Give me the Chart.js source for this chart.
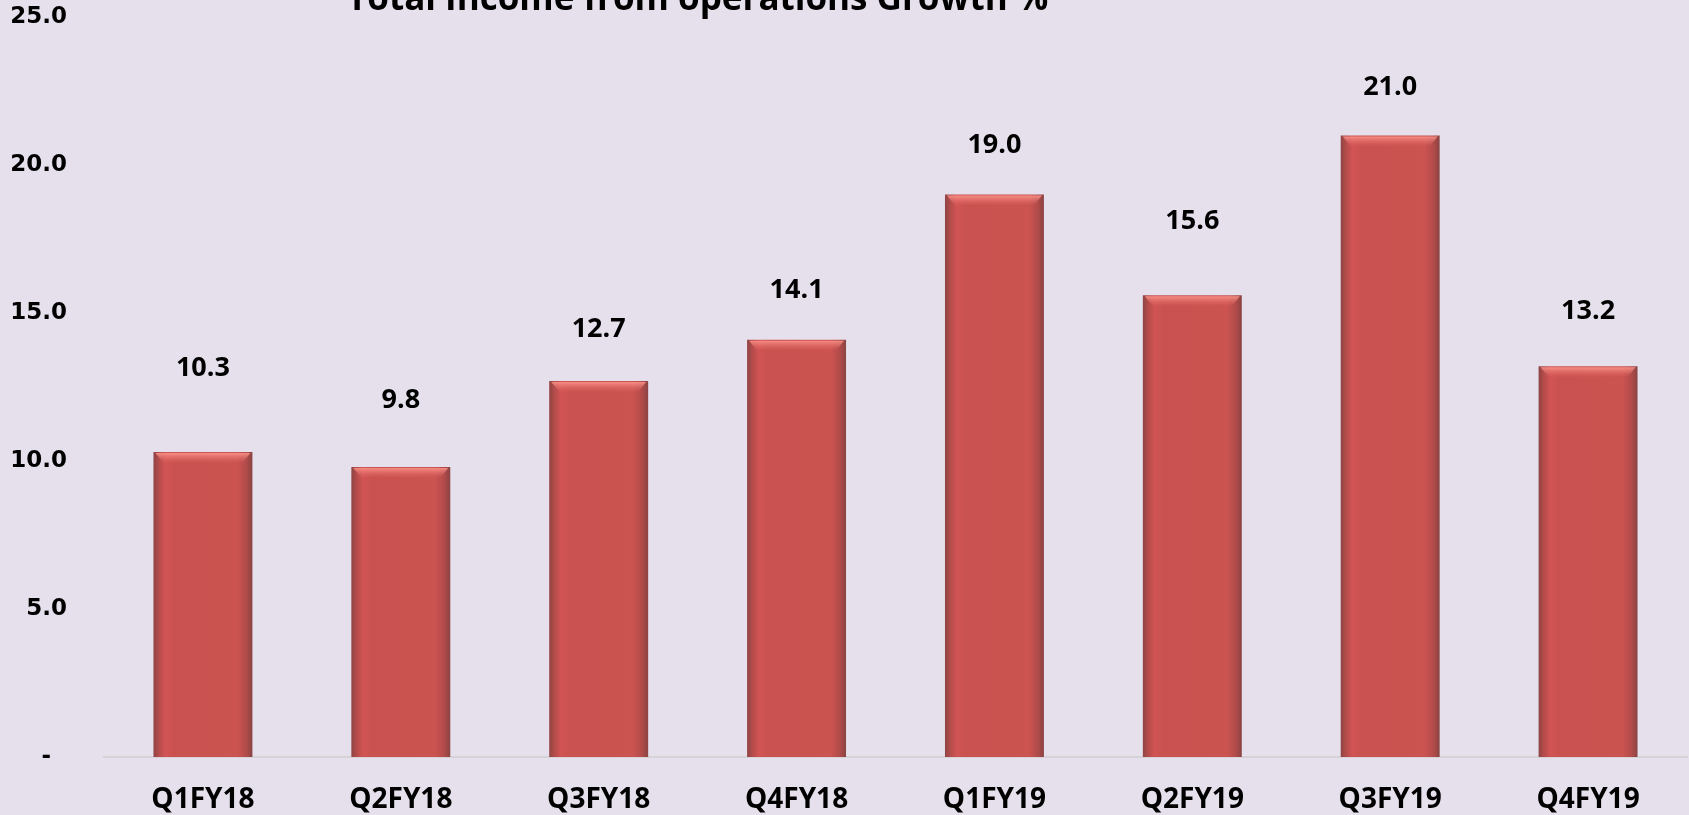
<!DOCTYPE html>
<html>
<head>
<meta charset="utf-8">
<script src="https://cdn.jsdelivr.net/npm/chart.js@4/dist/chart.umd.min.js"></script>
<style>
  html, body { margin: 0; padding: 0; background: #E6E0EC; }
  #wrap { width: 1689px; height: 815px; }
</style>
</head>
<body>
<div id="wrap"><canvas id="barChart" width="1689" height="815"></canvas></div>
<script>
// data
const quarters = ['Q1FY18','Q2FY18','Q3FY18','Q4FY18','Q1FY19','Q2FY19','Q3FY19','Q4FY19'];
const growth = [10.3, 9.8, 12.7, 14.1, 19.0, 15.6, 21.0, 13.2];
const yTicks = [0, 5, 10, 15, 20, 25];
const chartTitle = 'Total Income from operations Growth %';

// how far each value label sits above its bar (px), as placed in the original
const labelLift = [84, 67, 52, 49, 49, 74, 48, 55];

const bgPlugin = {
    id: 'bg',
    beforeDraw(chart){
        const c = chart.ctx;
        c.save();
        c.fillStyle = '#E6E0EC';
        c.fillRect(0, 0, chart.width, chart.height);
        c.restore();
    }
};

// title sits partly cut off at the very top, left of centre
const titlePlugin = {
    id: 'cutTitle',
    afterDraw(chart){
        const c = chart.ctx;
        c.save();
        c.font = 'bold 32px "Open Sans"';
        let w = c.measureText(chartTitle).width;
        let size = 32 * 702 / w;
        c.font = 'bold ' + size.toFixed(1) + 'px "Open Sans"';
        c.fillStyle = '#000';
        c.textAlign = 'left';
        c.textBaseline = 'alphabetic';
        c.fillText(chartTitle, 347, 10);
        c.restore();
    }
};

// bevel highlight on top of each bar + value labels
const barExtras = {
    id: 'barExtras',
    afterDatasetsDraw(chart){
        const c = chart.ctx;
        const meta = chart.getDatasetMeta(0);
        c.save();
        meta.data.forEach((bar, i) => {
            const left = bar.x - bar.width/2;
            const g = c.createLinearGradient(0, bar.y, 0, bar.y + 11);
            g.addColorStop(0, 'rgba(255,155,145,0.95)');
            g.addColorStop(1, 'rgba(235,110,105,0)');
            c.fillStyle = g;
            c.beginPath();
            c.moveTo(left + 2, bar.y + 1);
            c.lineTo(left + bar.width - 2, bar.y + 1);
            c.lineTo(left + bar.width - 10, bar.y + 11);
            c.lineTo(left + 10, bar.y + 11);
            c.closePath();
            c.fill();

            c.font = 'bold 27px "Open Sans"';
            c.fillStyle = '#000';
            c.textAlign = 'center';
            c.textBaseline = 'middle';
            c.fillText(growth[i].toFixed(1), bar.x, bar.y - labelLift[i]);
        });
        c.restore();
    }
};

function barFill(ctx){
    const chart = ctx.chart;
    const xs = chart.scales.x;
    if(!xs || !chart.chartArea) return '#CB5350';
    const cx = xs.getPixelForValue(ctx.dataIndex);
    const w = xs.width / quarters.length * 0.5;
    const g = chart.ctx.createLinearGradient(cx - w/2, 0, cx + w/2, 0);
    g.addColorStop(0, '#8E4444');
    g.addColorStop(0.05, '#B24B4A');
    g.addColorStop(0.12, '#D25454');
    g.addColorStop(0.2, '#C95250');
    g.addColorStop(0.85, '#CB5350');
    g.addColorStop(0.94, '#B04B4A');
    g.addColorStop(1, '#8A4343');
    return g;
}

new Chart(document.getElementById('barChart'), {
    type: 'bar',
    data: {
        labels: quarters,
        datasets: [{
            data: growth,
            backgroundColor: barFill,
            borderWidth: 0,
            categoryPercentage: 1,
            barPercentage: 0.5
        }]
    },
    options: {
        responsive: false,
        animation: false,
        layout: { padding: { top: 17, right: 2, left: 0, bottom: 0 } },
        plugins: {
            legend: { display: false },
            tooltip: { enabled: false },
            title: { display: false }
        },
        scales: {
            x: {
                afterFit(scale){
                    scale.height = 58;
                    scale.paddingLeft = 0;
                    scale.paddingRight = 0;
                },
                grid: { display: false, drawTicks: false },
                border: { display: true, color: '#D6D3D8', width: 2 },
                ticks: {
                    color: '#000',
                    font: { family: 'Open Sans', size: 28, weight: 'bold' },
                    padding: 26,
                    maxRotation: 0
                }
            },
            y: {
                min: 0,
                max: 25,
                afterBuildTicks(scale){
                    scale.ticks = yTicks.map(v => ({ value: v }));
                },
                afterFit(scale){
                    scale.width = 104;
                    scale.paddingTop = 0;
                    scale.paddingBottom = 0;
                },
                grid: { display: false, drawTicks: false },
                border: { display: false },
                ticks: {
                    color: '#000',
                    font: { family: 'DejaVu Sans', size: 23, weight: 'bold' },
                    padding: 37,
                    callback: v => v === 0 ? '-  ' : v.toFixed(1)
                }
            }
        }
    },
    plugins: [bgPlugin, barExtras, titlePlugin]
});
</script>
</body>
</html>
